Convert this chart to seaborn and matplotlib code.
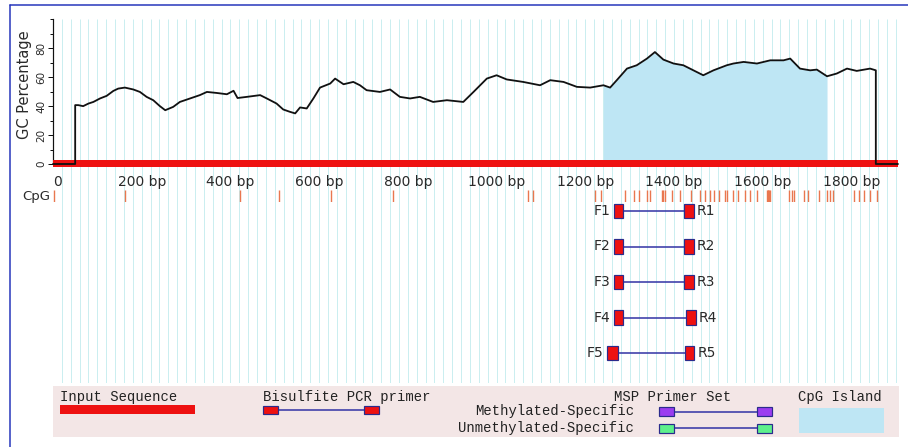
import numpy as np
import pandas as pd
import matplotlib
matplotlib.use("Agg")
import matplotlib.pyplot as plt
import seaborn as sns
from matplotlib.patches import Rectangle
from matplotlib.lines import Line2D

# ---------------- data ----------------
seq_len = 1905  # bp

# GC content (sliding window) along the input sequence
gc_bp = [0, 50, 50, 57, 68, 80, 91, 106, 121, 136, 147, 162, 181, 196, 211, 226,
         241, 253, 271, 286, 309, 331, 347, 369, 392, 407, 416, 437, 467, 482,
         504, 519, 534, 546, 557, 572, 587, 602, 625, 636, 655, 677, 692, 707,
         737, 760, 782, 805, 827, 857, 888, 925, 948, 978, 1000, 1023, 1060,
         1098, 1121, 1151, 1181, 1211, 1241, 1256, 1271, 1294, 1316, 1339, 1357,
         1376, 1399, 1421, 1451, 1466, 1489, 1519, 1534, 1557, 1587, 1617, 1647,
         1662, 1684, 1707, 1722, 1745, 1767, 1790, 1812, 1842, 1855, 1855, 1905]
gc_pct = [0, 0, 40.6, 40.6, 39.9, 41.7, 42.8, 45.2, 47.0, 50.4, 52.0, 52.7, 51.4,
          49.7, 46.3, 44.0, 39.9, 37.1, 39.4, 42.8, 45.2, 47.5, 49.7, 49.0, 48.1,
          50.5, 45.5, 46.3, 47.5, 45.2, 41.7, 37.6, 36.0, 34.9, 39.0, 38.3, 45.2,
          52.7, 55.5, 58.9, 55.0, 56.6, 54.3, 50.9, 49.7, 51.4, 46.3, 45.2, 46.3,
          42.8, 44.0, 42.8, 49.7, 58.9, 61.2, 58.3, 56.6, 54.3, 57.8, 56.6, 53.2,
          52.7, 54.3, 52.7, 57.8, 65.8, 68.1, 72.7, 77.2, 72.0, 69.3, 68.1, 63.5,
          61.2, 64.6, 68.1, 69.3, 70.4, 69.3, 71.5, 71.5, 72.7, 65.8, 64.6, 65.1,
          60.5, 62.4, 65.8, 64.2, 65.8, 64.6, 0, 0]

# predicted CpG island
island_start, island_end = 1241, 1745

# CpG dinucleotide positions
cpg_sites = [2, 162, 422, 510, 627, 766, 1071, 1082, 1222, 1236, 1290, 1309,
             1322, 1339, 1346, 1372, 1376, 1380, 1395, 1414, 1438, 1459, 1470,
             1481, 1490, 1502, 1515, 1519, 1534, 1545, 1560, 1572, 1587, 1609,
             1611, 1613, 1615, 1617, 1660, 1665, 1671, 1692, 1703, 1726, 1746,
             1752, 1758, 1805, 1816, 1829, 1841, 1857]

# bisulfite PCR primer pairs (bp)
pair_names = ["1", "2", "3", "4", "5"]
fwd_start = [1265, 1265, 1265, 1265, 1250]
fwd_end = [1286, 1286, 1286, 1286, 1273]
rev_start = [1423, 1423, 1423, 1426, 1425]
rev_end = [1445, 1445, 1445, 1449, 1446]

major_step, minor_step = 200, 40
grid_step = 20

# ---------------- style ----------------
sns.set_theme(style="white")
plt.rcParams["font.family"] = ["DejaVu Sans"]
plt.rcParams["text.color"] = "#2a2a2a"

W, H = 908, 447
PX = 0.72  # points per pixel at 100 dpi


def frac(x0, y0, x1, y1):
    return [x0 / W, 1 - y1 / H, (x1 - x0) / W, (y1 - y0) / H]


fig = plt.figure(figsize=(W / 100, H / 100), dpi=100)
fig.patch.set_facecolor("white")

RED = "#ee1111"
NAVY = "#2b2b8c"
ISLAND = "#bee6f4"

# background grid
ax_bg = fig.add_axes(frac(53, 19, 898, 383))
ax_bg.set_xlim(0, seq_len)
ax_bg.set_ylim(0, 1)
ax_bg.vlines(np.arange(grid_step, seq_len, grid_step), 0, 1,
             color="#cbeef0", lw=1.0 * PX)
ax_bg.axis("off")

# GC content panel
ax_gc = fig.add_axes(frac(53, 19, 898, 164))
ax_gc.patch.set_alpha(0)
gc = pd.DataFrame({"bp": gc_bp, "gc": gc_pct})
isl = gc[(gc.bp >= island_start) & (gc.bp <= island_end)]
ax_gc.fill_between(isl.bp, 0, isl.gc, color=ISLAND, lw=0, zorder=1)
ax_gc.fill_between([0, seq_len], -2.1, 2.7, color=RED, lw=0, zorder=3,
                   clip_on=False)
sns.lineplot(data=gc, x="bp", y="gc", sort=False, estimator=None,
             color="#111111", lw=1.3 * PX * 1.4, ax=ax_gc, zorder=4,
             clip_on=False)
ax_gc.set_xlim(0, seq_len)
ax_gc.set_ylim(0, 100)
ax_gc.set_axisbelow(False)
for s in ["top", "right", "bottom"]:
    ax_gc.spines[s].set_visible(False)
ax_gc.spines["left"].set_color("#111111")
ax_gc.spines["left"].set_linewidth(1.2 * PX)

major_x = np.arange(0, seq_len, major_step)
ax_gc.set_xticks(major_x)
ax_gc.set_xticklabels(["0"] + [f"{v} bp" for v in major_x[1:]])
ax_gc.set_xticks([v for v in np.arange(0, seq_len, minor_step)
                  if v % major_step], minor=True)
ax_gc.tick_params(axis="x", which="major", direction="in", length=11 * PX,
                  width=1 * PX, color="#9a1010", pad=8, labelsize=10,
                  labelcolor="#2a2a2a")
ax_gc.tick_params(axis="x", which="minor", direction="in", length=8 * PX,
                  width=1 * PX, color="#9a1010")
ax_gc.get_xticklabels()[0].set_ha("left")

ax_gc.set_yticks([0, 20, 40, 60, 80])
ax_gc.set_yticks([10, 30, 50, 70, 90, 100], minor=True)
ax_gc.tick_params(axis="y", which="major", direction="out", length=5 * PX,
                  width=1 * PX, color="#111111", pad=1, labelsize=7.5,
                  labelrotation=90, labelcolor="#2a2a2a", left=True)
ax_gc.tick_params(axis="y", which="minor", direction="out", length=3.5 * PX,
                  width=1 * PX, color="#111111", left=True)
for lab in ax_gc.get_yticklabels():
    lab.set_va("center")
ax_gc.set_xlabel("")
ax_gc.set_ylabel("GC Percentage", fontsize=10.5, color="#2a2a2a")
ax_gc.yaxis.set_label_coords((32 - 53) / 845, (164 - 84.5) / 145)

# CpG sites track
ax_cpg = fig.add_axes(frac(53, 190, 898, 202))
ax_cpg.patch.set_alpha(0)
sns.rugplot(x=cpg_sites, height=1, expand_margins=False, color="#e9774f",
            lw=1.3 * PX, ax=ax_cpg)
ax_cpg.set_xlim(0, seq_len)
ax_cpg.set_ylim(0, 1)
ax_cpg.axis("off")
ax_cpg.text(-3 / 845, 0.45, "CpG", transform=ax_cpg.transAxes, ha="right",
            va="center", fontsize=9.5, color="#2a2a2a")

# primer pairs track
ax_prm = fig.add_axes(frac(53, 193.25, 898, 370.75))
ax_prm.patch.set_alpha(0)
ax_prm.set_xlim(0, seq_len)
ax_prm.set_ylim(4.5, -0.5)
ax_prm.axis("off")
box_h = 0.42
for row, (name, fs, fe, rs, re_) in enumerate(
        zip(pair_names, fwd_start, fwd_end, rev_start, rev_end)):
    ax_prm.plot([fe, rs], [row, row], color="#3a3aa8", lw=1.6 * PX, zorder=2)
    for s, e in [(fs, fe), (rs, re_)]:
        ax_prm.add_patch(Rectangle((s, row - box_h / 2), e - s, box_h,
                                   facecolor=RED, edgecolor=NAVY,
                                   lw=1.2 * PX, zorder=3))
    ax_prm.annotate("F" + name, (fs, row), xytext=(-4 * PX, 0),
                    textcoords="offset points", ha="right", va="center",
                    fontsize=10, color="#2a2a2a")
    ax_prm.annotate("R" + name, (re_, row), xytext=(3 * PX, 0),
                    textcoords="offset points", ha="left", va="center",
                    fontsize=10, color="#2a2a2a")

# key panel
ax_leg = fig.add_axes(frac(53, 386, 899, 437))
ax_leg.set_facecolor("#f3e6e6")
ax_leg.set_xlim(0, 846)
ax_leg.set_ylim(51, 0)
ax_leg.set_xticks([])
ax_leg.set_yticks([])
for s in ax_leg.spines.values():
    s.set_visible(False)
mono = dict(family="Liberation Mono", fontsize=10, color="#222222",
            va="center")
ax_leg.text(7, 11, "Input Sequence", ha="left", **mono)
ax_leg.add_patch(Rectangle((7, 19), 135, 9, facecolor=RED, lw=0))
ax_leg.text(210, 11, "Bisulfite PCR primer", ha="left", **mono)
ax_leg.plot([225, 311], [24, 24], color="#3a3aa8", lw=1.6 * PX)
for x0 in (210, 311):
    ax_leg.add_patch(Rectangle((x0, 20), 15, 8, facecolor=RED,
                               edgecolor=NAVY, lw=1.2 * PX, zorder=3))
ax_leg.text(561, 11, "MSP Primer Set", ha="left", **mono)
ax_leg.text(581, 25.5, "Methylated-Specific", ha="right", **mono)
ax_leg.text(581, 42, "Unmethylated-Specific", ha="right", **mono)
for yc, fc in [(25.5, "#9b3df0"), (42, "#5ef08c")]:
    ax_leg.plot([620, 704], [yc, yc], color="#3a3aa8", lw=1.6 * PX)
    for x0 in (606, 704):
        ax_leg.add_patch(Rectangle((x0, yc - 4.5), 15, 9, facecolor=fc,
                                   edgecolor=NAVY, lw=1.2 * PX, zorder=3))
ax_leg.text(745, 11, "CpG Island", ha="left", **mono)
ax_leg.add_patch(Rectangle((746, 22), 85, 25, facecolor=ISLAND, lw=0))

# frame lines
fig.add_artist(Line2D([10 / W, 1], [1 - 5 / H, 1 - 5 / H],
                      transform=fig.transFigure, color="#2233bb", lw=1.5 * PX))
fig.add_artist(Line2D([10 / W, 10 / W], [0, 1 - 5 / H],
                      transform=fig.transFigure, color="#2233bb", lw=1.5 * PX))

fig.savefig("out.png", dpi=100, facecolor="white")
